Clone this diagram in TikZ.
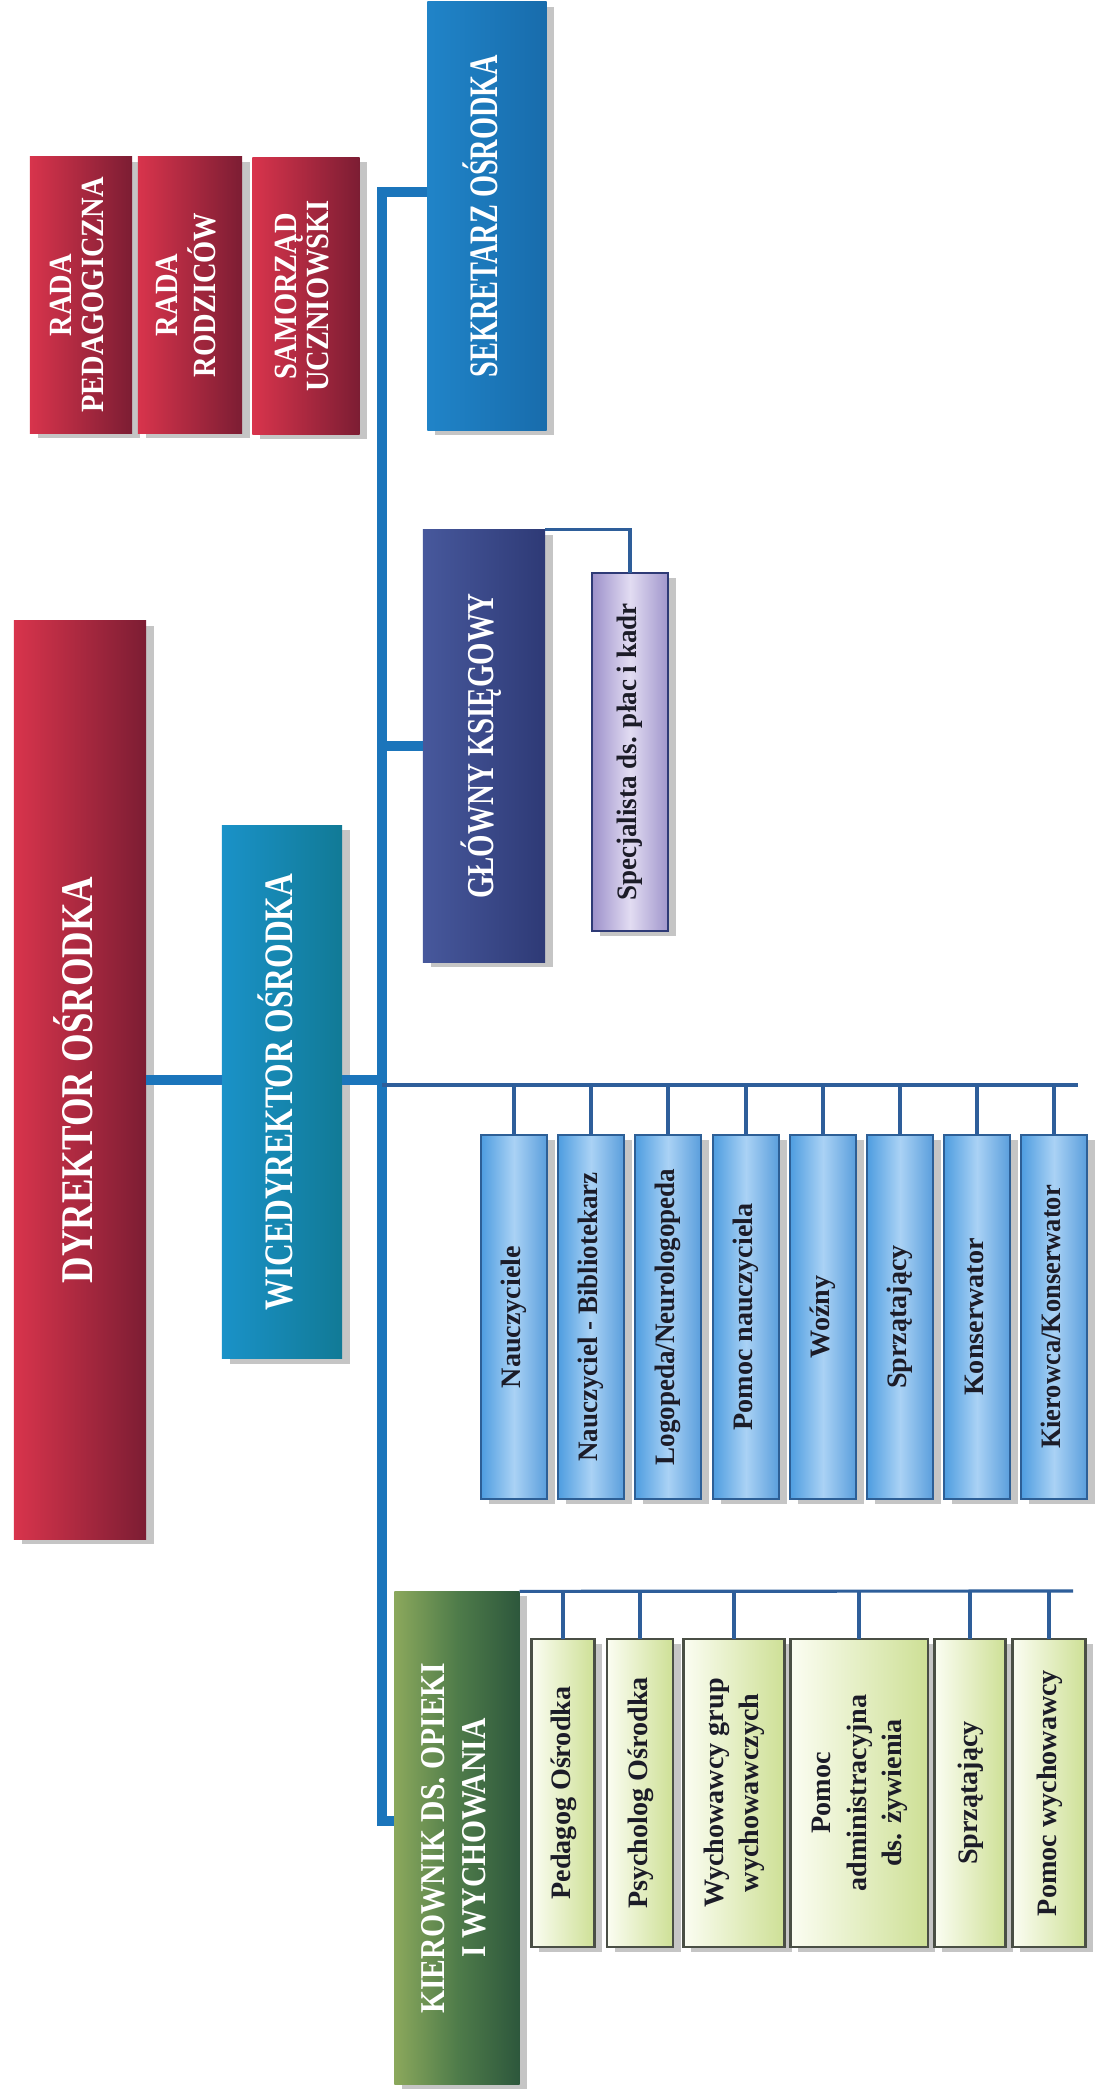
\documentclass[tikz,border=0pt]{standalone}
\usepackage{fontspec}
\setmainfont{Liberation Serif}
\usepackage{graphicx}
\usepackage{xcolor}
\usetikzlibrary{shadows}

\definecolor{spineblue}{HTML}{1B75BB}
\definecolor{busblue}{HTML}{2E5E9A}
\definecolor{redL}{HTML}{D8344C}
\definecolor{redR}{HTML}{7C1D33}
\definecolor{sekrL}{HTML}{2084C8}
\definecolor{sekrR}{HTML}{186CAC}
\definecolor{wiceL}{HTML}{1A92C8}
\definecolor{wiceR}{HTML}{117A96}
\definecolor{ksiegL}{HTML}{47589C}
\definecolor{ksiegR}{HTML}{2E3A76}
\definecolor{specL}{HTML}{9C90CA}
\definecolor{specM}{HTML}{E2DCF2}
\definecolor{specR}{HTML}{A096CC}
\definecolor{kierL}{HTML}{8BA85C}
\definecolor{kierM}{HTML}{4F7C4A}
\definecolor{kierR}{HTML}{2D573C}
\definecolor{cellL}{HTML}{4E9DE0}
\definecolor{cellM}{HTML}{AAD2F5}
\definecolor{cellR}{HTML}{5A9EDC}
\definecolor{cellline}{HTML}{2D5F96}
\definecolor{greenL}{HTML}{FBFDF2}
\definecolor{greenR}{HTML}{CEE096}
\definecolor{greenline}{HTML}{4A4F45}
\definecolor{celltext}{HTML}{1C1C28}

\tikzstyle{spineline} = [line width=2.9pt, color=spineblue]
\tikzstyle{busline} = [line width=0.9pt, color=busblue]
\tikzstyle{orgbox} = [rectangle, inner sep=0pt, outer sep=0pt, text=white,
  drop shadow={shadow xshift=2.2pt, shadow yshift=-1.4pt, opacity=0.45}]
\tikzstyle{redbox} = [orgbox, left color=redL, right color=redR]
\tikzstyle{sekrbox} = [orgbox, left color=sekrL, right color=sekrR]
\tikzstyle{wicebox} = [orgbox, left color=wiceL, right color=wiceR]
\tikzstyle{ksiegbox} = [orgbox, left color=ksiegL, right color=ksiegR]
\tikzstyle{kierbox} = [orgbox, left color=kierL, right color=kierR, middle color=kierM]
\tikzstyle{specbox} = [orgbox, draw=ksiegR, line width=0.7pt, text=celltext,
  left color=specL, right color=specR, middle color=specM,
  font=\fontsize{8}{9.5}\selectfont\bfseries]
\tikzstyle{bluecell} = [orgbox, draw=cellline, line width=0.6pt, text=celltext,
  left color=cellL, right color=cellR, middle color=cellM,
  minimum width=6.6mm, minimum height=36.3mm,
  font=\fontsize{8}{9.5}\selectfont\bfseries]
\tikzstyle{greencell} = [orgbox, draw=greenline, line width=0.6pt, text=celltext,
  left color=greenL, right color=greenR,
  minimum height=30.7mm,
  font=\fontsize{8}{10}\selectfont\bfseries]

% rotated, squeezed label
\newcommand{\vtxt}[2][1]{\rotatebox{90}{\scalebox{#1}[1]{\begin{tabular}{@{}c@{}}#2\end{tabular}}}}

\begin{document}
\begin{tikzpicture}[x=0.01cm, y=-0.01cm]
\fill[white] (0,0) rectangle (1096,2089);
\useasboundingbox (0,0) rectangle (1096,2089);

% Rady
\node[redbox, font=\fontsize{9.2}{9.1}\selectfont\bfseries, minimum width=10.2mm, minimum height=27.6mm]
  (radaped) at (81,295) {\vtxt[0.88]{RADA\\PEDAGOGICZNA}};
\node[redbox, font=\fontsize{9.2}{9.1}\selectfont\bfseries, minimum width=10.4mm, minimum height=27.6mm]
  (radarodz) at (190,295) {\vtxt[0.88]{RADA\\RODZICÓW}};
\node[redbox, font=\fontsize{9.2}{9.1}\selectfont\bfseries, minimum width=10.7mm, minimum height=27.7mm]
  (samorzad) at (306,296) {\vtxt[0.88]{SAMORZĄD\\UCZNIOWSKI}};

% Kierownictwo
\node[redbox, font=\fontsize{12.9}{14}\selectfont\bfseries, minimum width=13.2mm, minimum height=91.8mm]
  (dyr) at (80,1080) {\vtxt[0.81]{DYREKTOR OŚRODKA}};
\node[wicebox, font=\fontsize{11.5}{13}\selectfont\bfseries, minimum width=12mm, minimum height=53.3mm]
  (wice) at (282,1092) {\vtxt[0.78]{WICEDYREKTOR OŚRODKA}};
\node[sekrbox, font=\fontsize{11.5}{13}\selectfont\bfseries, minimum width=11.9mm, minimum height=42.8mm]
  (sekr) at (487,216) {\vtxt[0.70]{SEKRETARZ OŚRODKA}};
\node[ksiegbox, font=\fontsize{10.8}{12}\selectfont\bfseries, minimum width=12.2mm, minimum height=43.2mm]
  (ksieg) at (484,746) {\vtxt[0.76]{GŁÓWNY KSIĘGOWY}};
\node[specbox, minimum width=7.6mm, minimum height=35.8mm]
  (specj) at (630,752) {\vtxt[0.96]{Specjalista ds. płac i kadr}};
\node[kierbox, font=\fontsize{9.9}{11.4}\selectfont\bfseries, minimum width=12.5mm, minimum height=49.3mm]
  (kierown) at (457,1838) {\vtxt[0.85]{KIEROWNIK DS. OPIEKI\\I WYCHOWANIA}};

% Kadra
\node[bluecell] (nau) at (514,1317) {\vtxt{Nauczyciele}};
\node[bluecell] (bib) at (591,1317) {\vtxt[0.96]{Nauczyciel - Bibliotekarz}};
\node[bluecell] (logo) at (668,1317) {\vtxt[0.96]{Logopeda/Neurologopeda}};
\node[bluecell] (pomn) at (746,1317) {\vtxt{Pomoc nauczyciela}};
\node[bluecell] (wozny) at (823,1317) {\vtxt{Woźny}};
\node[bluecell] (sprz) at (900,1317) {\vtxt{Sprzątający}};
\node[bluecell] (kons) at (977,1317) {\vtxt{Konserwator}};
\node[bluecell] (kierowca) at (1054,1317) {\vtxt[0.94]{Kierowca/Konserwator}};

% Opieka i wychowanie
\node[greencell, minimum width=6.3mm] (pedag) at (563,1793) {\vtxt{Pedagog Ośrodka}};
\node[greencell, minimum width=6.6mm] (psych) at (640,1793) {\vtxt{Psycholog Ośrodka}};
\node[greencell, minimum width=10.1mm] (wychgr) at (734,1793) {\vtxt{Wychowawcy grup\\wychowawczych}};
\node[greencell, minimum width=13.7mm] (pomadm) at (859,1793) {\vtxt{Pomoc\\administracyjna\\ds. żywienia}};
\node[greencell, minimum width=7.1mm] (sprzw) at (970,1793) {\vtxt{Sprzątający}};
\node[greencell, minimum width=7.3mm] (pomw) at (1049,1793) {\vtxt{Pomoc wychowawcy}};

% Spine
\coordinate (top) at (382,192);
\coordinate (bottom) at (382,1821);
\draw[spineline] (sekr.west |- top) -- (top) -- (bottom) -- (kierown.west |- bottom);
\draw[spineline] (ksieg.west) -- (ksieg.west -| top);
\draw[spineline] (dyr.east) -- (dyr.east -| wice.west);
\draw[spineline] (wice.east |- dyr.east) -- (dyr.east -| top);

% Buses
\draw[busline] (ksieg.north east) -| (specj.north);

\coordinate (kadraL) at (382,1085);
\coordinate (kadraR) at (1078,1085);
\draw[busline] (kadraL) -- (kadraR);
\foreach \n in {nau,bib,logo,pomn,wozny,sprz,kons,kierowca}
  \draw[busline] (\n.north) -- (\n.north |- kadraL);

\coordinate (wychR) at (1073,1591);
\draw[busline] (kierown.north east) -- (wychR);
\foreach \n in {pedag,psych,wychgr,pomadm,sprzw,pomw}
  \draw[busline] (\n.north) -- (\n.north |- wychR);
\end{tikzpicture}
\end{document}
